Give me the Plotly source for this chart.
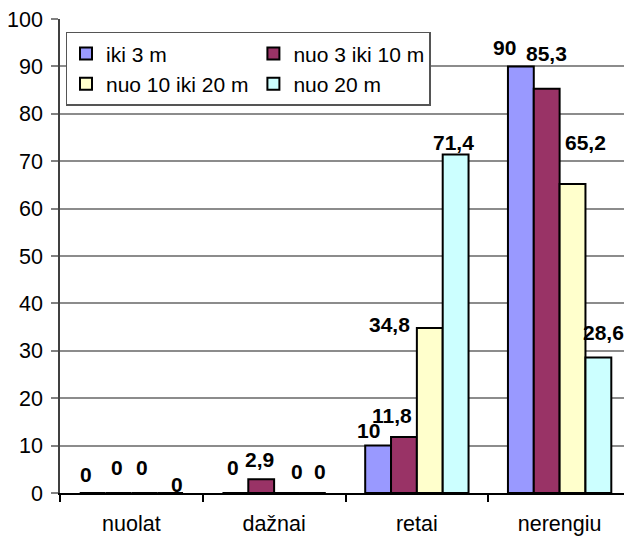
import plotly.graph_objects as go

categories = ["nuolat", "dažnai", "retai", "nerengiu"]
series_names = ["iki 3 m", "nuo 3 iki 10 m", "nuo 10 iki 20 m", "nuo 20 m"]
iki_3 = [0, 0, 10, 90]
nuo_3_iki_10 = [0, 2.9, 11.8, 85.3]
nuo_10_iki_20 = [0, 0, 34.8, 65.2]
nuo_20 = [0, 0, 71.4, 28.6]
series_values = [iki_3, nuo_3_iki_10, nuo_10_iki_20, nuo_20]
y_ticks = list(range(0, 101, 10))

colors = ["#9999FF", "#993366", "#FFFFCC", "#CCFFFF"]
legend_columns = ["left", "right", "left", "right"]

# label nudges (px) relative to each bar's top centre: [series][category] -> (dx, dy_up)
label_nudges = [
    [(-7, 19), (-2, 26), (-10, 15), (-16, 19)],
    [(-1, 26), (-2, 20), (-12, 22), (0, 35)],
    [(-2, 26), (10, 22), (-40, 4), (13, 41)],
    [(7, 9), (7, 22), (-2, 12), (5, 25)],
]

bargap = 0.276
font = "Liberation Sans, Arial, sans-serif"

fig = go.Figure()
for name, vals, col, grp in zip(series_names, series_values, colors, legend_columns):
    fig.add_trace(go.Bar(
        x=categories, y=vals, name=name, legendgroup=grp,
        marker=dict(color=col, line=dict(color="black", width=2)),
    ))

plot_left, plot_right = 60, 624
x_range = [-0.5, 3.451]
px_per_cat = (plot_right - plot_left) / (x_range[1] - x_range[0])
bar_w = px_per_cat * (1 - bargap) / 4
for si, vals in enumerate(series_values):
    offset = (si - 1.5) * bar_w
    for ci, v in enumerate(vals):
        dx, dy = label_nudges[si][ci]
        fig.add_annotation(
            x=categories[ci], y=v, xref="x", yref="y",
            text=f"{v:g}".replace(".", ","), showarrow=False,
            xshift=offset + dx, yshift=dy,
            xanchor="center", yanchor="middle",
            font=dict(family=font, size=21, color="black", weight="bold"),
        )

fig.update_layout(
    width=624, height=536,
    margin=dict(l=60, r=0, t=19, b=43),
    paper_bgcolor="white", plot_bgcolor="white",
    barmode="group", bargap=bargap, bargroupgap=0,
    font=dict(family=font, size=21, color="black"),
    legend=dict(
        orientation="h", x=0.0106, y=0.973, xanchor="left", yanchor="top",
        bgcolor="white", bordercolor="#555555", borderwidth=1.5,
        font=dict(family=font, size=21, color="black"),
        traceorder="grouped", tracegroupgap=0,
        itemwidth=30,
    ),
    showlegend=True,
)
fig.update_xaxes(
    range=x_range, type="category", tickson="boundaries", automargin=False,
    ticks="outside", ticklen=7, tickcolor="black", tickwidth=1.5,
    showline=True, linecolor="black", linewidth=1.5,
    showgrid=False, zeroline=False, ticklabelstandoff=10,
    tickfont=dict(family=font, size=21.5, color="black"),
)
fig.update_yaxes(
    range=[0, 100], tickvals=y_ticks, ticks="outside", ticklen=7, automargin=False,
    tickcolor="#808080", tickwidth=1.5,
    showline=True, linecolor="#404040", linewidth=1.5,
    showgrid=True, gridcolor="#8c8c8c", gridwidth=1.5, zeroline=False,
    ticklabelstandoff=4,
    tickfont=dict(family=font, size=21.5, color="black"),
)

fig.write_html("out.html", config={"displayModeBar": False},
               post_script="document.body.style.margin='0';")
